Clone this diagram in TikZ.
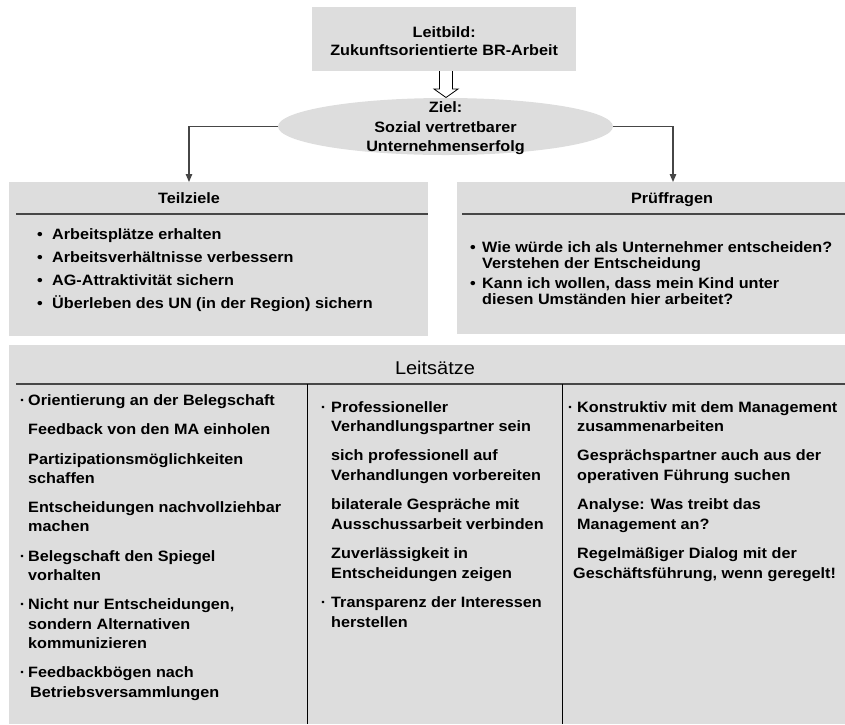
\documentclass[tikz,border=0pt]{standalone}
\usepackage{fontspec}
\setmainfont{Liberation Sans}[FakeStretch=1.08]
\usetikzlibrary{positioning,shapes.geometric,arrows.meta}
\definecolor{Silver}{RGB}{221, 221, 221}
\definecolor{Tundora}{RGB}{70, 70, 70}

\tikzset{
	caja/.style={fill=Silver, inner sep=0pt, anchor=north west},
	kopf/.style={font=\bfseries\fontsize{15}{18}\selectfont, inner sep=0pt, anchor=base},
	texto/.style={font=\bfseries\fontsize{15}{19.7}\selectfont, align=left, inner sep=0pt, anchor=base west},
	linea/.style={Tundora, line width=1.2pt},
	trenn/.style={black, line width=0.9pt},
	conector/.style={Tundora, line width=1.3pt, -{Triangle[width=6.5pt,length=8pt]}}
}
\newcommand{\blt}[1]{\llap{•\hspace{#1}}}
\newcommand{\pto}[1]{\llap{·\hspace{#1}}}

\begin{document}
\begin{tikzpicture}[x=1pt,y=-1pt]
	\useasboundingbox (0,0) rectangle (845,724);
	% Leitbild und Ziel
	\node[caja, minimum width=264pt, minimum height=64pt] (leitbild) at (312,7) {};
	\node[font=\bfseries\fontsize{15}{18}\selectfont, align=center, inner sep=0pt] (leitbildtext) at ([yshift=-2pt]leitbild.center) {Leitbild:\\Zukunftsorientierte BR-Arbeit};
	\node[ellipse, fill=Silver, minimum width=335pt, minimum height=57pt, inner sep=0pt] (ziel) at (445.5,126.5) {};
	\node[font=\bfseries\fontsize{15}{19.5}\selectfont, align=center, inner sep=0pt] (zieltext) at ([yshift=-2pt]ziel.center) {Ziel:\\Sozial vertretbarer\\Unternehmenserfolg};
	% Hohlpfeil
	\filldraw[fill=white, draw=black, line width=0.8pt] (439.5,71) -- (439.5,89) -- (434,89) -- (446,97.5) -- (458,89) -- (452.5,89) -- (452.5,71);
	% Kästen
	\node[caja, minimum width=419pt, minimum height=154pt] (teil) at (9,182) {};
	\node[caja, minimum width=388pt, minimum height=152pt] (pruef) at (457,182) {};
	\node[caja, minimum width=836pt, minimum height=379pt] (leit) at (9,345) {};
	% Verbinder
	\coordinate (teilziel) at (189,182);
	\coordinate (pruefziel) at (673,182);
	\draw[conector] (ziel.west) -| (teilziel);
	\draw[conector] (ziel.east) -| (pruefziel);
	% Überschriften
	\node[kopf] (teilkopf) at (189,203.5) {Teilziele};
	\node[kopf] (pruefkopf) at (672,203.5) {Prüffragen};
	\node[kopf, font=\fontsize{18.5}{20}\selectfont] (leitkopf) at (435,374.5) {Leitsätze};
	\draw[linea] (16,214) -- (428,214);
	\draw[linea] (462,214) -- (845,214);
	\draw[linea] (16,384) -- (845,384);
	\draw[trenn] (307.5,384) -- (307.5,724);
	\draw[trenn] (562,384) -- (562,724);
	% Teilziele (Anker: Grundlinie der letzten Zeile)
	\node[texto, font=\bfseries\fontsize{15}{23}\selectfont] (teilliste) at (52,308) {\blt{9.4pt}Arbeitsplätze erhalten\\\blt{9.4pt}Arbeitsverhältnisse verbessern\\\blt{9.4pt}AG-Attraktivität sichern\\\blt{9.4pt}Überleben des UN (in der Region) sichern};
	% Prüffragen
	\node[texto, font=\bfseries\fontsize{15}{16}\selectfont] (prueliste) at (482,304) {\blt{6.4pt}Wie würde ich als Unternehmer entscheiden?\\Verstehen der Entscheidung\\[4pt]\blt{6.4pt}Kann ich wollen, dass mein Kind unter\\diesen Umständen hier arbeitet?};
	% Leitsätze
	\node[texto, font=\bfseries\fontsize{15}{19.3}\selectfont] (links) at (28,697) {\pto{3pt}Orientierung an der Belegschaft\\[10pt]Feedback von den MA einholen\\[10pt]Partizipationsmöglichkeiten\\schaffen\\[10pt]Entscheidungen nachvollziehbar\\machen\\[10pt]\pto{3pt}Belegschaft den Spiegel\\vorhalten\\[10pt]\pto{3pt}Nicht nur Entscheidungen,\\sondern Alternativen\\kommunizieren\\[10pt]\pto{3pt}Feedbackbögen nach\\\hspace*{2pt}Betriebsversammlungen};
	\node[texto] (mitte) at (331,627.3) {\pto{5pt}Professioneller\\Verhandlungspartner sein\\[9.5pt]sich professionell auf\\Verhandlungen vorbereiten\\[9.5pt]bilaterale Gespräche mit\\Ausschussarbeit verbinden\\[9.5pt]Zuverlässigkeit in\\Entscheidungen zeigen\\[9.5pt]\pto{5pt}Transparenz der Interessen\\herstellen};
	\node[texto] (rechts) at (577,578.4) {\pto{4pt}Konstruktiv mit dem Management\\zusammenarbeiten\\[9.5pt]Gesprächspartner auch aus der\\operativen Führung suchen\\[9.5pt]Analyse: Was treibt das\\Management an?\\[9.5pt]Regelmäßiger Dialog mit der\\\hspace*{-4pt}Geschäftsführung, wenn geregelt!};
\end{tikzpicture}
\end{document}
